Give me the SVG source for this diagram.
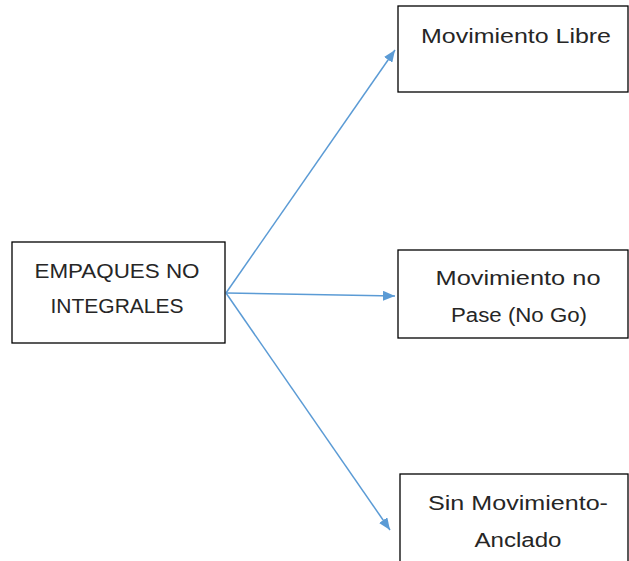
<svg xmlns="http://www.w3.org/2000/svg" width="629" height="561" viewBox="0 0 629 561">
<style>
.box{fill:#fff;stroke:#000;stroke-width:1.3}
.t{font-family:"Liberation Sans",Arial,sans-serif;font-size:20px;fill:#262626;text-anchor:middle}
.c{stroke:#5B9BD5;stroke-width:1.5;fill:none;marker-end:url(#ah)}
</style>
<defs>
<marker id="ah" viewBox="0 0 12 10" refX="12" refY="5" markerWidth="12" markerHeight="10" markerUnits="userSpaceOnUse" orient="auto"><path d="M0,0 L12,5 L0,10 z" fill="#5B9BD5"/></marker>
</defs>
<rect width="629" height="561" fill="#fff"/>
<g id="connectors">
<line class="c" x1="226" y1="293" x2="395" y2="50"/>
<line class="c" x1="226" y1="293" x2="395" y2="296"/>
<line class="c" x1="226" y1="293" x2="390" y2="530"/>
</g>
<g id="n0">
<rect class="box" x="12" y="242" width="213" height="101"/>
<text class="t" x="117" y="278" textLength="165" lengthAdjust="spacingAndGlyphs">EMPAQUES NO</text>
<text class="t" x="117" y="313" textLength="133" lengthAdjust="spacingAndGlyphs">INTEGRALES</text>
</g>
<g id="n1">
<rect class="box" x="398" y="6" width="230" height="86"/>
<text class="t" x="516" y="43" textLength="190" lengthAdjust="spacingAndGlyphs">Movimiento Libre</text>
</g>
<g id="n2">
<rect class="box" x="398" y="250" width="230" height="88"/>
<text class="t" x="518" y="285" textLength="165" lengthAdjust="spacingAndGlyphs">Movimiento no</text>
<text class="t" x="519" y="322" textLength="136" lengthAdjust="spacingAndGlyphs">Pase (No Go)</text>
</g>
<g id="n3">
<rect class="box" x="400" y="474" width="228" height="100"/>
<text class="t" x="518" y="510" textLength="180" lengthAdjust="spacingAndGlyphs">Sin Movimiento-</text>
<text class="t" x="518" y="547" textLength="87" lengthAdjust="spacingAndGlyphs">Anclado</text>
</g>
</svg>
